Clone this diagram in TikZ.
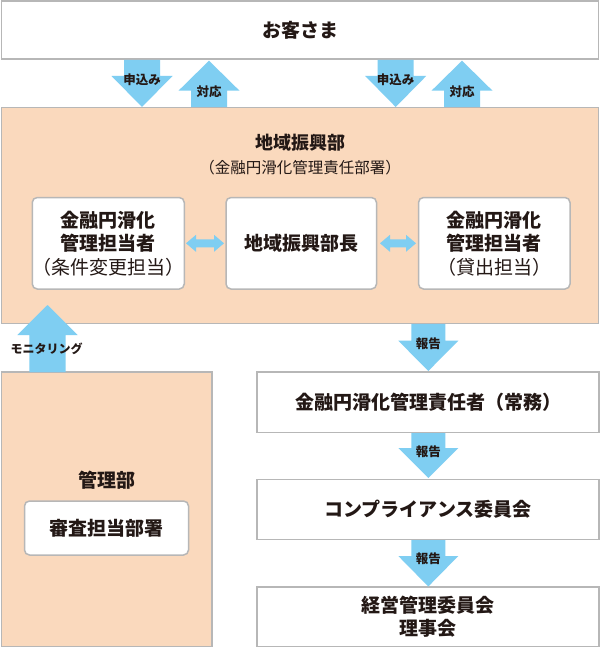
\documentclass[tikz,border=0pt]{standalone}
\usepackage{fontspec}
\setmainfont{Noto Sans CJK JP}
\definecolor{peach}{HTML}{FAD9BD}
\definecolor{sky}{HTML}{7FCEF2}
\definecolor{edge}{HTML}{B7B7B7}
\definecolor{ink}{HTML}{231815}
\newcommand\mainlbl{\fontsize{19}{23.5}\selectfont\bfseries}
\newcommand\titlelbl{\fontsize{18}{22}\selectfont\bfseries}
\newcommand\sublbl{\fontsize{15.5}{18}\selectfont}
\newcommand\smalllbl{\fontsize{12.5}{15}\selectfont\bfseries}
% block arrows: x, y of flat end, y of head base, y of tip
\newcommand\blkdown[4]{\fill[sky] (#1-18,#2) -- (#1+18,#2) -- (#1+18,#3) -- (#1+30.5,#3) -- (#1,#4) -- (#1-30.5,#3) -- (#1-18,#3) -- cycle;}
\newcommand\blkrep[4]{\fill[sky] (#1-17,#2) -- (#1+17,#2) -- (#1+17,#3) -- (#1+30,#3) -- (#1,#4) -- (#1-30,#3) -- (#1-17,#3) -- cycle;}
\newcommand\blkboth[3]{\fill[sky] (#1,#3) -- (#1+10,#3-8.5) -- (#1+10,#3-4) -- (#2-10,#3-4) -- (#2-10,#3-8.5) -- (#2,#3) -- (#2-10,#3+8.5) -- (#2-10,#3+4) -- (#1+10,#3+4) -- (#1+10,#3+8.5) -- cycle;}
\tikzset{
  box/.style={draw=edge, line width=1.5pt, fill=white, text=ink, inner sep=0pt, font=\mainlbl, align=center},
  rbox/.style={box, rounded corners=5pt},
  peachbox/.style={draw=edge, line width=1.5pt, fill=peach, inner sep=0pt},
  lbl/.style={text=ink, inner sep=0pt, font=\smalllbl},
}
\begin{document}
\begin{tikzpicture}[x=1pt,y=-1pt]
\useasboundingbox (0,0) rectangle (600,650);
\fill[white] (0,0) rectangle (600,650);
% boxes
\node[box, minimum width=597, minimum height=58] (cust) at (300,30.25) {お客さま};
\node[peachbox, minimum width=597, minimum height=216] (region) at (300,215.5) {};
\node[text=ink, font=\titlelbl, inner sep=0pt] (regiont) at (300,143) {地域振興部};
\node[text=ink, font=\sublbl, inner sep=0pt] (regions) at (300,168) {（金融円滑化管理責任部署）};
\node[rbox, minimum width=151.5, minimum height=91.5] (left) at (108.25,243.25) {金融円滑化\\管理担当者\\{\mdseries（条件変更担当）}};
\node[rbox, minimum width=150.5, minimum height=91.5] (mid) at (301.25,243.25) {地域振興部長};
\node[rbox, minimum width=151.5, minimum height=91.5] (right) at (494.25,243.25) {金融円滑化\\管理担当者\\{\mdseries（貸出担当）}};
\node[peachbox, minimum width=210.5, minimum height=274.5] (mgmt) at (106.75,509.25) {};
\node[text=ink, font=\mainlbl, inner sep=0pt] (mgmtt) at (106.5,480) {管理部};
\node[rbox, minimum width=164, minimum height=54] (shinsa) at (106.5,528) {審査担当部署};
\node[box, minimum width=342, minimum height=60.5] (r1) at (428,402.25) {金融円滑化管理責任者（常務）};
\node[box, minimum width=342, minimum height=60] (r2) at (428,509.5) {コンプライアンス委員会};
\node[box, minimum width=342, minimum height=59.5, font=\fontsize{19}{22.5}\selectfont\bfseries] (r3) at (428,616.75) {経営管理委員会\\理事会};
% arrows between customers and region
\blkdown{142}{60}{76}{107}
\blkdown{209}{107}{90.7}{60.7}
\blkdown{395.7}{60}{76}{107}
\blkdown{462}{107}{90.7}{60.7}
\node[lbl] (a1) at (142,80) {申込み};
\node[lbl] (a2) at (209,91.5) {対応};
\node[lbl] (a3) at (395.7,80) {申込み};
\node[lbl] (a4) at (462,91.5) {対応};
% double arrows
\blkboth{186}{224}{243.3}
\blkboth{380}{416}{243.3}
% monitoring
\fill[sky] (47.5-18.2,372) -- (47.5+18.2,372) -- (47.5+18.2,335) -- (47.5+30.2,335) -- (47.5,305) -- (47.5-30.2,335) -- (47.5-18.2,335) -- cycle;
\node[lbl, font=\fontsize{12}{14}\selectfont\bfseries] (mon) at (46.7,349) {モニタリング};
% report arrows
\blkrep{428.3}{324}{340.7}{371}
\blkrep{428.3}{433}{448}{478}
\blkrep{428.3}{540}{556}{586.5}
\node[lbl] (b1) at (428.3,344) {報告};
\node[lbl] (b2) at (428.3,451.7) {報告};
\node[lbl] (b3) at (428.3,558.3) {報告};
\end{tikzpicture}
\end{document}
